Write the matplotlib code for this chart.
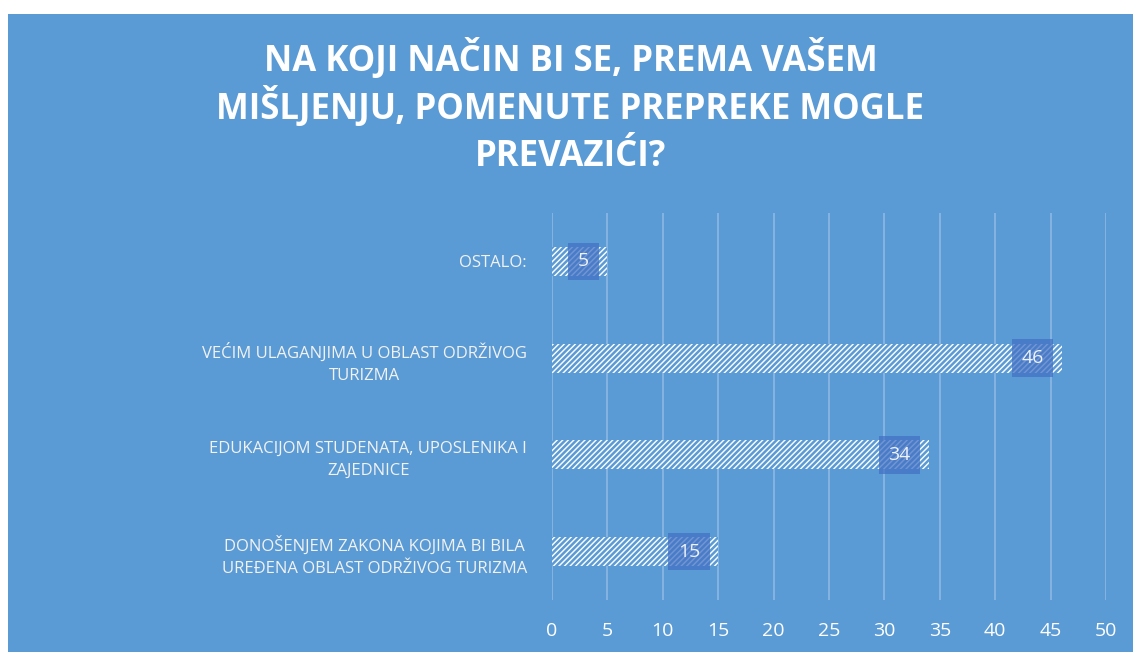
import numpy as np
import matplotlib.pyplot as plt
from matplotlib.patches import Rectangle

# DATA ----------------------------------------------------------------------
categories = ["DONOŠENJEM ZAKONA KOJIMA BI BILA\nUREĐENA OBLAST ODRŽIVOG TURIZMA",
              "EDUKACIJOM STUDENATA, UPOSLENIKA I\nZAJEDNICE",
              "VEĆIM ULAGANJIMA U OBLAST ODRŽIVOG\nTURIZMA",
              "OSTALO:"]
values = [15, 34, 46, 5]
xticks = [0, 5, 10, 15, 20, 25, 30, 35, 40, 45, 50]
title_lines = ["NA KOJI NAČIN BI SE, PREMA VAŠEM",
               "MIŠLJENJU, POMENUTE PREPREKE MOGLE",
               "PREVAZIĆI?"]

# STYLE ---------------------------------------------------------------------
bg = '#5B9BD5'
grid_c = '#8DB9E4'
box_c = '#4472C4'
plt.rcParams['font.family'] = ['Open Sans', 'DejaVu Sans']
plt.rcParams['hatch.linewidth'] = 1.8

fig = plt.figure(figsize=(11.33, 6.52), dpi=100, facecolor='white')
fig.patches.append(Rectangle((8/1133, 0), 1 - 8/1133, 1 - 14/652,
                             transform=fig.transFigure, facecolor=bg,
                             edgecolor='none', zorder=-10))

ax = fig.add_axes([552/1133, 1 - 600/652, 554/1133, 387/652])
ax.set_facecolor('none')

y = np.arange(len(categories))
ax.barh(y, values, height=0.3, color='white', edgecolor=bg,
        linewidth=0, hatch='//////', zorder=2)

for yi, v in zip(y, values):
    ax.annotate(str(v), (v, yi), xytext=(-13, 0), textcoords='offset points',
                ha='right', va='center', color='#EEF3FA', fontsize=14,
                bbox=dict(boxstyle='square,pad=0.5', facecolor=box_c,
                          edgecolor='none', alpha=0.75), zorder=3)

ax.set_xlim(0, 50)
ax.set_ylim(-0.5, 3.5)
ax.set_xticks(xticks)
ax.set_yticks(y)
ax.set_yticklabels(categories)
for lab in ax.get_yticklabels():
    lab.set_multialignment('center')
    lab.set_linespacing(1.5)
ax.tick_params(axis='x', length=0, pad=16, labelsize=14, labelcolor='white')
ax.tick_params(axis='y', length=0, pad=18, labelsize=12, labelcolor='#F2F2F2')
ax.grid(axis='x', color=grid_c, linewidth=1.2, zorder=1)
ax.set_axisbelow(True)
for s in ax.spines.values():
    s.set_visible(False)

for i, line in enumerate(title_lines):
    fig.text(0.5 + 4/1133, 1 - (59 + 49*i)/652, line, ha='center', va='center',
             color='white', fontsize=25, fontweight='bold')

fig.savefig("out.png", dpi=100)
